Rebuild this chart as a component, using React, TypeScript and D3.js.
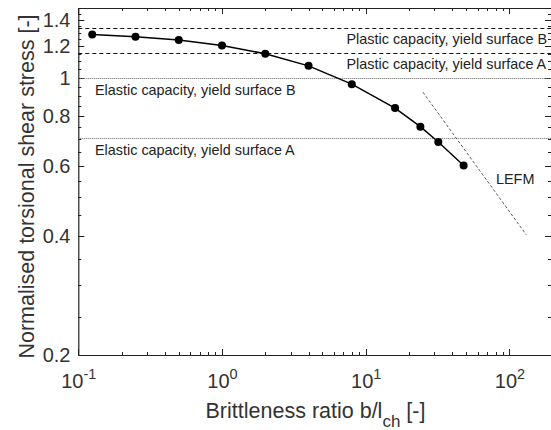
import React, { useEffect, useRef } from 'react';
import * as d3 from 'd3';

// brittleness ratio b/l_ch and normalised torsional shear stress
const ratio = [0.125, 0.25, 0.5, 1, 2, 4, 8, 16, 24, 32, 48];
const stress = [1.286, 1.269, 1.245, 1.206, 1.15, 1.072, 0.964, 0.839, 0.753, 0.689, 0.601];

// reference levels
const levels = [
  { name: 'Plastic capacity, yield surface B', value: 1.333, kind: 'dash', side: 'right' },
  { name: 'Plastic capacity, yield surface A', value: 1.155, kind: 'dash', side: 'right' },
  { name: 'Elastic capacity, yield surface B', value: 1.0, kind: 'dot', side: 'left' },
  { name: 'Elastic capacity, yield surface A', value: 0.707, kind: 'dot', side: 'left' },
];

// LEFM asymptote: stress = c / sqrt(ratio)
const lefmC = 4.6;
const lefmRange = [25, 131];

const yTicks = [0.2, 0.4, 0.6, 0.8, 1, 1.2, 1.4];
const xTicks = [0.1, 1, 10, 100];

const W = 551;
const H = 430;

export default function App() {
  const ref = useRef<SVGSVGElement>(null);

  useEffect(() => {
    const svg = d3.select(ref.current);
    svg.selectAll('*').remove();

    const x = d3.scaleLog().domain([0.1, 200]).range([78.3, 552.7]);
    const y = d3.scaleLog().domain([0.2, 1.5]).range([355, 8]);
    const left = 78.3, right = 551, top = 8, bottom = 355;
    const font = "'Liberation Sans', Arial, sans-serif";

    const g = svg.append('g');

    // minor/major ticks, drawn inward on all four sides
    const xMinor: number[] = [];
    for (let p = -1; p <= 2; p++) for (let m = 1; m <= 9; m++) {
      const v = m * Math.pow(10, p);
      if (v <= 200) xMinor.push(v);
    }
    const yMinor = d3.range(0.2, 1.5001, 0.05).map(v => +v.toFixed(2));

    const ticks = g.append('g').attr('stroke', '#222').attr('stroke-width', 1);
    xMinor.forEach(v => {
      const len = xTicks.includes(v) ? 6 : 3;
      const px = Math.round(x(v)) + 0.5;
      ticks.append('line').attr('x1', px).attr('x2', px).attr('y1', bottom).attr('y2', bottom - len);
      ticks.append('line').attr('x1', px).attr('x2', px).attr('y1', top).attr('y2', top + len);
    });
    yMinor.forEach(v => {
      const len = yTicks.some(t => Math.abs(t - v) < 1e-6) ? 6 : 3;
      const py = Math.round(y(v)) + 0.5;
      ticks.append('line').attr('x1', left).attr('x2', left + len).attr('y1', py).attr('y2', py);
      ticks.append('line').attr('x1', right).attr('x2', right - len).attr('y1', py).attr('y2', py);
    });

    // frame
    g.append('path')
      .attr('d', `M${right},${top + 0.5}H${left + 0.5}V${bottom + 0.5}H${right}`)
      .attr('fill', 'none').attr('stroke', '#222').attr('stroke-width', 1.2);

    // reference levels
    levels.forEach(l => {
      const py = Math.round(y(l.value)) + 0.5;
      g.append('line')
        .attr('x1', left).attr('x2', right).attr('y1', py).attr('y2', py)
        .attr('stroke', l.kind === 'dash' ? '#111' : '#666')
        .attr('stroke-width', l.kind === 'dash' ? 1 : 1.2)
        .attr('stroke-dasharray', l.kind === 'dash' ? '4,3' : '1,1');
      g.append('text')
        .attr('x', l.side === 'right' ? 346.5 : 95)
        .attr('y', py + (l.side === 'right' ? 15 : 16.5))
        .attr('font-family', font).attr('font-size', 14.4).attr('fill', '#222')
        .text(l.name);
    });

    // LEFM
    g.append('line')
      .attr('x1', x(lefmRange[0])).attr('y1', y(lefmC / Math.sqrt(lefmRange[0])))
      .attr('x2', x(lefmRange[1])).attr('y2', y(lefmC / Math.sqrt(lefmRange[1])))
      .attr('stroke', '#333').attr('stroke-width', 0.8).attr('stroke-dasharray', '3,2');
    g.append('text').attr('x', 496).attr('y', 183.5)
      .attr('font-family', font).attr('font-size', 14.4).attr('fill', '#222').text('LEFM');

    // curve
    const pts = ratio.map((r, i) => [r, stress[i]] as [number, number]);
    g.append('path')
      .attr('d', d3.line<[number, number]>().x(d => x(d[0])).y(d => y(d[1]))(pts))
      .attr('fill', 'none').attr('stroke', '#000').attr('stroke-width', 1.5);
    g.selectAll('circle.pt').data(pts).enter().append('circle')
      .attr('cx', d => x(d[0])).attr('cy', d => y(d[1])).attr('r', 4).attr('fill', '#000');

    // y tick labels
    yTicks.forEach(v => {
      g.append('text').attr('x', 70.5).attr('y', y(v) + 7)
        .attr('text-anchor', 'end').attr('font-family', font).attr('font-size', 20).attr('fill', '#333')
        .text(String(v));
    });

    // x tick labels
    xTicks.forEach(v => {
      const t = g.append('text').attr('x', x(v) + 0.5).attr('y', 388)
        .attr('text-anchor', 'middle').attr('font-family', font).attr('font-size', 20).attr('fill', '#333');
      t.append('tspan').text('10');
      t.append('tspan').attr('dy', -9).attr('font-size', 14.5).text(String(Math.round(Math.log10(v))));
    });

    // axis titles
    const xl = g.append('text').attr('x', 315.5).attr('y', 418)
      .attr('text-anchor', 'middle').attr('font-family', font).attr('font-size', 21.5).attr('fill', '#333');
    xl.append('tspan').text('Brittleness ratio b/l');
    xl.append('tspan').attr('dy', 9).attr('font-size', 17).text('ch');
    xl.append('tspan').attr('dy', -9).text(' [-]');

    g.append('text')
      .attr('transform', `translate(33.5,186.5) rotate(-90)`)
      .attr('text-anchor', 'middle').attr('font-family', font).attr('font-size', 21.5).attr('fill', '#333')
      .text('Normalised torsional shear stress [-]');
  }, []);

  return (
    <svg ref={ref} width={W} height={H}
      style={{ position: 'absolute', left: 0, top: 0, background: '#fff' }} />
  );
}
